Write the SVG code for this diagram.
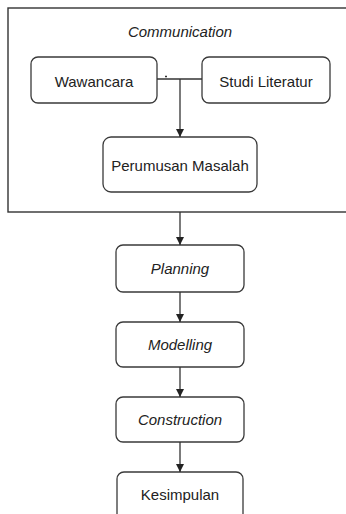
<svg xmlns="http://www.w3.org/2000/svg" width="346" height="514" viewBox="0 0 346 514">
<style>
.box{fill:#fff;stroke:#3a3a3a;stroke-width:1.3}
.frame{fill:#fff;stroke:#333;stroke-width:1.4}
.t{font-family:"Liberation Sans",Arial,sans-serif;font-size:15px;fill:#222;text-anchor:middle}
.i{font-style:italic}
.c{fill:none;stroke:#333;stroke-width:1.3}
</style>
<defs>
<marker id="ah" viewBox="0 0 10 10" refX="10" refY="5" markerWidth="8" markerHeight="8" markerUnits="userSpaceOnUse" orient="auto">
<path d="M0,0 L10,5 L0,10 Z" fill="#222"/>
</marker>
</defs>
<rect width="346" height="514" fill="#fff"/>
<g id="communication">
<rect class="frame" x="8" y="8" width="345" height="204"/>
<text class="t i" x="180" y="37">Communication</text>
</g>
<g id="wawancara">
<rect class="box" x="31" y="57" width="126" height="46" rx="7"/>
<text class="t" x="94" y="87">Wawancara</text>
</g>
<g id="studi">
<rect class="box" x="202" y="57" width="128" height="46" rx="7"/>
<text class="t" x="266" y="87">Studi Literatur</text>
</g>
<g id="perumusan">
<rect class="box" x="103" y="137" width="154" height="55" rx="8"/>
<text class="t" x="180" y="171">Perumusan Masalah</text>
</g>
<g id="planning">
<rect class="box" x="116" y="245" width="128" height="47" rx="7"/>
<text class="t i" x="180" y="274">Planning</text>
</g>
<g id="modelling">
<rect class="box" x="116" y="322" width="128" height="45" rx="7"/>
<text class="t i" x="180" y="350">Modelling</text>
</g>
<g id="construction">
<rect class="box" x="116" y="397" width="128" height="45" rx="7"/>
<text class="t i" x="180" y="425">Construction</text>
</g>
<g id="kesimpulan">
<rect class="box" x="117" y="472" width="126" height="50" rx="7"/>
<text class="t" x="180" y="500">Kesimpulan</text>
</g>
<g id="connectors">
<path class="c" d="M157,79 H202"/>
<path class="c" d="M165,76.5 H167" stroke-width="1"/>
<path class="c" d="M180,79 V137" marker-end="url(#ah)"/>
<path class="c" d="M180,212 V245" marker-end="url(#ah)"/>
<path class="c" d="M180,292 V322" marker-end="url(#ah)"/>
<path class="c" d="M180,367 V397" marker-end="url(#ah)"/>
<path class="c" d="M180,442 V472" marker-end="url(#ah)"/>
</g>
</svg>
